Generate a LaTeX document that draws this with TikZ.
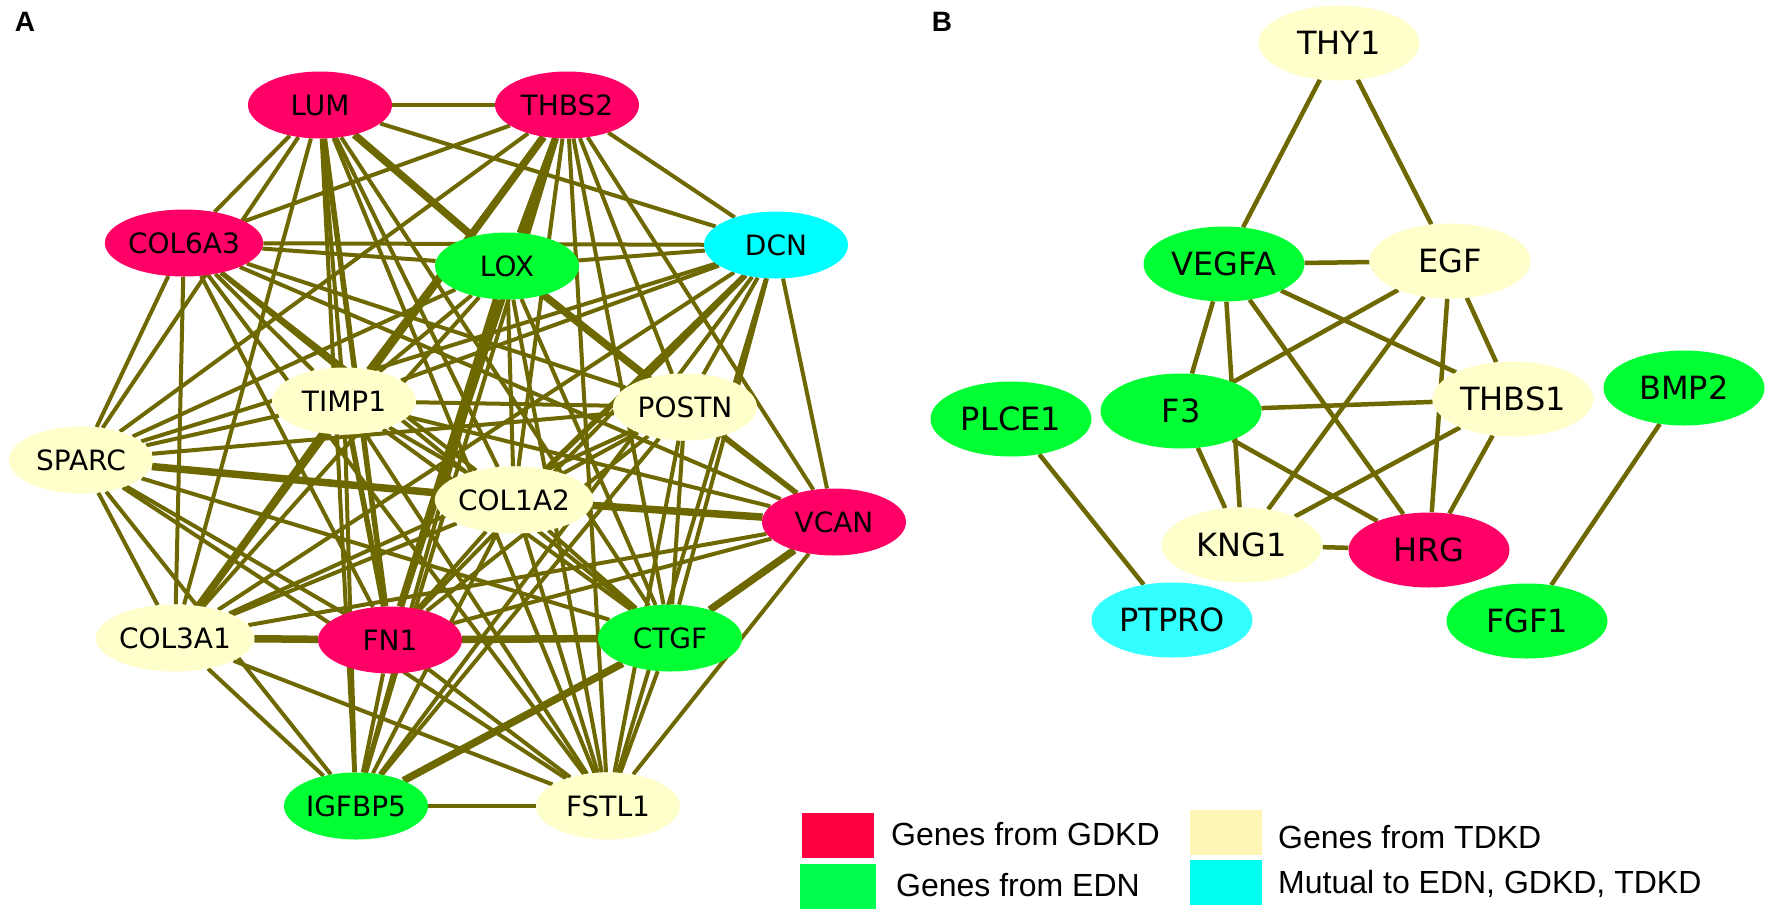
\documentclass[tikz,border=0pt]{standalone}
\usepackage{fontspec}
\setmainfont{DejaVu Sans}
\newfontfamily\legfont{Liberation Sans}
\usetikzlibrary{shapes.geometric,backgrounds}
\definecolor{gdkdc}{RGB}{255,0,102}
\definecolor{ednc}{RGB}{0,255,51}
\definecolor{tdkdc}{RGB}{255,255,204}
\definecolor{mutc}{RGB}{0,255,255}
\definecolor{edgec}{RGB}{110,104,0}
\definecolor{lgred}{RGB}{255,0,64}
\definecolor{lggreen}{RGB}{0,255,76}
\definecolor{lgyellow}{RGB}{255,246,182}
\definecolor{lgcyan}{RGB}{0,255,238}
\begin{document}
\begin{tikzpicture}[x=1pt,y=-1pt,
  gA/.style={ellipse, draw=none, minimum width=144pt, minimum height=67pt, inner sep=0pt, font=\fontsize{28}{30}\selectfont},
  gB/.style={ellipse, draw=none, minimum width=161pt, minimum height=75pt, inner sep=0pt, font=\fontsize{32}{34}\selectfont},
  gdkd/.style={fill=gdkdc}, edn/.style={fill=ednc}, tdkd/.style={fill=tdkdc}, mut/.style={fill=mutc},
  ln/.style={draw=edgec, line width=4pt},
  lnm/.style={draw=edgec, line width=5.5pt},
  lnt/.style={draw=edgec, line width=7.5pt},
  lnb/.style={draw=edgec, line width=4.5pt},
  panel/.style={font=\legfont\bfseries\fontsize{28}{30}\selectfont},
  legbox/.style={minimum width=72pt, minimum height=45pt, inner sep=0pt, draw=none},
  legtxt/.style={anchor=base west, inner sep=0pt, font=\legfont\fontsize{32}{34}\selectfont}]
\useasboundingbox (0,0) rectangle (1772,913);

\node[panel] (labA) at (25,22) {A};
\node[panel] (labB) at (942,22) {B};

% Panel A nodes
\node[gA,gdkd] (LUM) at (320,105) {LUM};
\node[gA,gdkd] (THBS2) at (567,105) {THBS2};
\node[gA,gdkd] (COL6A3) at (184,243) {COL6A3};
\node[gA,edn] (LOX) at (507,266) {LOX};
\node[gA,mut] (DCN) at (776,245) {DCN};
\node[gA,tdkd] (TIMP1) at (344,401) {TIMP1};
\node[gA,tdkd] (POSTN) at (685,407) {POSTN};
\node[gA,tdkd] (SPARC) at (81,460) {SPARC};
\node[gA,tdkd] (COL1A2) at (514,500) {COL1A2};
\node[gA,gdkd] (VCAN) at (834,522) {VCAN};
\node[gA,tdkd] (COL3A1) at (175,638) {COL3A1};
\node[gA,gdkd] (FN1) at (390,640) {FN1};
\node[gA,edn] (CTGF) at (670,638) {CTGF};
\node[gA,edn] (IGFBP5) at (356,806) {IGFBP5};
\node[gA,tdkd] (FSTL1) at (608,806) {FSTL1};

% Panel B nodes
\node[gB,tdkd] (THY1) at (1339,43) {THY1};
\node[gB,edn] (VEGFA) at (1224,264) {VEGFA};
\node[gB,tdkd] (EGF) at (1450,261) {EGF};
\node[gB,edn] (PLCE1) at (1011,419) {PLCE1};
\node[gB,edn] (F3) at (1181,411) {F3};
\node[gB,tdkd] (THBS1) at (1513,399) {THBS1};
\node[gB,edn] (BMP2) at (1684,388) {BMP2};
\node[gB,tdkd] (KNG1) at (1242,545) {KNG1};
\node[gB,gdkd] (HRG) at (1429,550) {HRG};
\node[gB,fill={rgb,255:red,51;green,255;blue,255}] (PTPRO) at (1172,620) {PTPRO};
\node[gB,edn] (FGF1) at (1527,621) {FGF1};

\begin{scope}[on background layer]
\foreach \a/\b in {LUM/THBS2, LUM/COL6A3, LUM/SPARC, LUM/COL3A1, LUM/TIMP1, LUM/IGFBP5, LUM/COL1A2, LUM/CTGF, LUM/DCN, LUM/FSTL1,
  THBS2/COL6A3, THBS2/SPARC, THBS2/TIMP1, THBS2/IGFBP5, THBS2/COL1A2, THBS2/CTGF, THBS2/FSTL1, THBS2/POSTN, THBS2/VCAN, THBS2/DCN,
  COL6A3/LOX, COL6A3/DCN, COL6A3/SPARC, COL6A3/COL3A1, COL6A3/TIMP1, COL6A3/FN1, COL6A3/COL1A2, COL6A3/POSTN, COL6A3/CTGF, COL6A3/FSTL1, COL6A3/VCAN,
  LOX/DCN, LOX/SPARC, LOX/TIMP1, LOX/COL1A2, LOX/CTGF, LOX/IGFBP5, LOX/FSTL1, LOX/VCAN, LOX/COL3A1,
  DCN/TIMP1, DCN/SPARC, DCN/POSTN, DCN/COL3A1, DCN/FN1, DCN/CTGF, DCN/FSTL1, DCN/VCAN, DCN/IGFBP5,
  TIMP1/POSTN, TIMP1/SPARC, TIMP1/COL1A2, TIMP1/CTGF, TIMP1/IGFBP5, TIMP1/FSTL1, TIMP1/VCAN, TIMP1/COL3A1,
  POSTN/SPARC, POSTN/COL1A2, POSTN/COL3A1, POSTN/FN1, POSTN/CTGF, POSTN/FSTL1, POSTN/IGFBP5,
  SPARC/COL3A1, SPARC/FN1, SPARC/CTGF, SPARC/IGFBP5, SPARC/FSTL1,
  COL1A2/COL3A1, COL1A2/FN1, COL1A2/CTGF, COL1A2/IGFBP5, COL1A2/FSTL1,
  VCAN/COL3A1, VCAN/FN1, VCAN/FSTL1,
  COL3A1/IGFBP5, COL3A1/FSTL1,
  FN1/IGFBP5, FN1/FSTL1,
  CTGF/FSTL1, IGFBP5/FSTL1}
  \draw[ln] (\a) -- (\b);
\foreach \a/\b in {LUM/FN1, THBS2/FN1, DCN/COL1A2, POSTN/VCAN, TIMP1/FN1, THBS2/LOX}
  \draw[lnm] (\a) -- (\b);
\foreach \a/\b in {LUM/LOX, LOX/POSTN, THBS2/COL3A1, LOX/FN1, SPARC/COL1A2, COL1A2/VCAN, COL3A1/FN1, FN1/CTGF, VCAN/CTGF, CTGF/IGFBP5}
  \draw[lnt] (\a) -- (\b);
\foreach \a/\b in {THY1/VEGFA, THY1/EGF, VEGFA/EGF, VEGFA/F3, VEGFA/KNG1, VEGFA/THBS1, VEGFA/HRG,
  EGF/F3, EGF/KNG1, EGF/THBS1, EGF/HRG, F3/THBS1, F3/KNG1, F3/HRG, THBS1/KNG1, THBS1/HRG, KNG1/HRG,
  PLCE1/PTPRO, BMP2/FGF1}
  \draw[lnb] (\a) -- (\b);
\end{scope}

% Legend
\node[legbox, fill=lgred] (lr) at (838,835) {};
\node[legbox, fill=lggreen, minimum width=76pt] (lg) at (838,886) {};
\node[legbox, fill=lgyellow] (ly) at (1226,832) {};
\node[legbox, fill=lgcyan] (lc) at (1226,882) {};
\node[legtxt] (tr) at (891,845) {Genes from GDKD};
\node[legtxt] (tg) at (896,896) {Genes from EDN};
\node[legtxt] (ty) at (1278,848) {Genes from TDKD};
\node[legtxt] (tc) at (1278,893) {Mutual to EDN, GDKD, TDKD};
\end{tikzpicture}
\end{document}
